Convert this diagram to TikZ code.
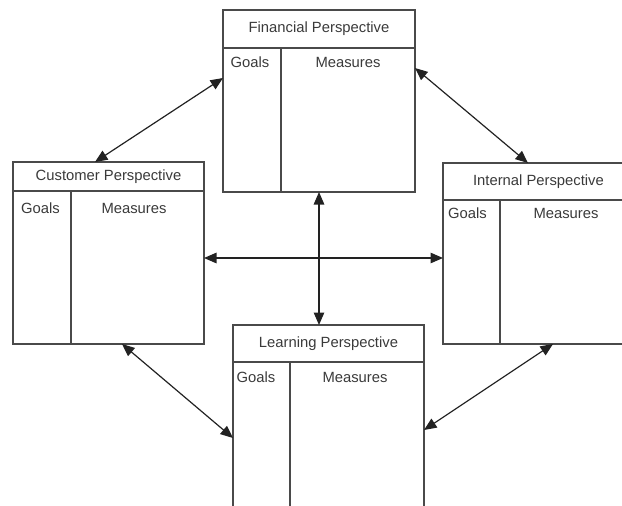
\documentclass[tikz,border=0pt]{standalone}
\usepackage{fontspec}
\setmainfont{Liberation Sans}
\usetikzlibrary{arrows.meta,calc}
\definecolor{ink}{HTML}{3A3A3A}
\definecolor{frame}{HTML}{4A4A4A}
\definecolor{arrowink}{HTML}{222222}
\begin{document}
\begin{tikzpicture}[x=1pt,y=-1pt,
  panel/.style={draw=frame, line width=1.3pt, rectangle, inner sep=0pt, outer sep=0pt, anchor=north west},
  rule/.style={draw=frame, line width=1.3pt},
  label/.style={text=ink, inner sep=0pt, font=\fontsize{14.8}{17}\selectfont},
  conn/.style={draw=arrowink, line width=1.2pt, {Triangle[length=12.5pt,width=10.5pt]}-{Triangle[length=12.5pt,width=10.5pt]}}]
\useasboundingbox (0,0) rectangle (622,506);
\clip (0,0) rectangle (622,506);

% Financial perspective
\node[panel, minimum width=192pt, minimum height=182pt] (fin) at (223,10) {};
\draw[rule] ($(fin.north west)+(0,38)$) -- ($(fin.north east)+(0,38)$);
\draw[rule] ($(fin.north west)+(58,38)$) -- ($(fin.south west)+(58,0)$);
\node[label] (finT) at (319,29) {Financial Perspective};
\node[label] (finG) at (250,62) {Goals};
\node[label] (finM) at (348,62) {Measures};

% Customer perspective
\node[panel, minimum width=191pt, minimum height=182pt] (cus) at (13,162) {};
\draw[rule] ($(cus.north west)+(0,29)$) -- ($(cus.north east)+(0,29)$);
\draw[rule] ($(cus.north west)+(58,29)$) -- ($(cus.south west)+(58,0)$);
\node[label] (cusT) at (108.5,177) {Customer Perspective};
\node[label] (cusG) at (40.5,208) {Goals};
\node[label] (cusM) at (134,208) {Measures};

% Internal perspective (runs past the right edge)
\node[panel, minimum width=191pt, minimum height=181pt] (int) at (443,163) {};
\draw[rule] ($(int.north west)+(0,37)$) -- ($(int.north east)+(0,37)$);
\draw[rule] ($(int.north west)+(57,37)$) -- ($(int.south west)+(57,0)$);
\node[label] (intT) at (538.5,182) {Internal Perspective};
\node[label] (intG) at (467.5,213) {Goals};
\node[label] (intM) at (566,213) {Measures};

% Learning perspective (runs past the bottom edge)
\node[panel, minimum width=191pt, minimum height=205pt] (lea) at (233,325) {};
\draw[rule] ($(lea.north west)+(0,37)$) -- ($(lea.north east)+(0,37)$);
\draw[rule] ($(lea.north west)+(57,37)$) -- ($(lea.south west)+(57,0)$);
\node[label] (leaT) at (328.5,344) {Learning Perspective};
\node[label] (leaG) at (256,377) {Goals};
\node[label] (leaM) at (355,377) {Measures};

% Links between the perspectives
\draw[conn] ($(fin.north west)+(0,68)$) -- ($(cus.north west)+(82,0)$);
\draw[conn] ($(fin.north east)+(0,58)$) -- ($(int.north west)+(85,0)$);
\draw[conn] ($(cus.south west)+(109,0)$) -- ($(lea.north west)+(0,113)$);
\draw[conn] ($(int.south west)+(110,0)$) -- ($(lea.north east)+(0,105)$);
\draw[conn] ($(cus.north east)+(0,96)$) -- ($(int.north west)+(0,95)$);
\draw[conn] ($(fin.south west)+(96,0)$) -- ($(lea.north west)+(86,0)$);
\end{tikzpicture}
\end{document}
